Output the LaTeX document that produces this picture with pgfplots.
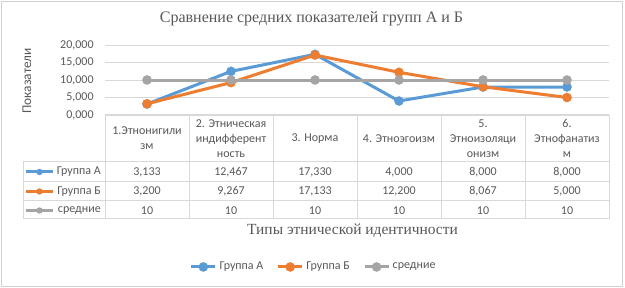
\documentclass[border=0pt]{standalone}
\usepackage{pgfplots}
\pgfplotsset{compat=1.18}
\usepackage{fontspec}
\setmainfont{Carlito}
\newfontfamily\seriffont{Liberation Serif}
\definecolor{cA}{HTML}{5B9BD5}
\definecolor{cB}{HTML}{ED7D31}
\definecolor{cC}{HTML}{A5A5A5}
\definecolor{gridc}{HTML}{D9D9D9}
\definecolor{frame}{HTML}{D0D0D0}
\definecolor{txt}{HTML}{595959}
\begin{document}
\begin{tikzpicture}
\begin{scope}[x=0.75pt,y=-0.75pt]
\fill[white] (0,0) rectangle (625,288);
\draw[frame, line width=1.2pt] (1.5,1.5) rectangle (622.5,286.5);
% title
\node[font=\seriffont\fontsize{12}{14}\selectfont, text=txt] at (311.5,19) {Сравнение средних показателей групп А и Б};
\node[font=\fontsize{10}{12}\selectfont, text=txt, rotate=90] at (27,81) {Показатели};
\node[font=\seriffont\fontsize{11.6}{14}\selectfont, text=txt] at (352.5,231) {Типы этнической идентичности};
% table grid
\begin{scope}[gridc, line width=0.75pt]
\draw (105,115) -- (609,115);
\foreach \yy in {162,182,201,219} \draw (23,\yy) -- (609,\yy);
\draw (23,162) -- (23,219);
\foreach \xx in {105,189,273,357,441,525,609} \draw (\xx,115) -- (\xx,219);
\end{scope}
% header
\begin{scope}[every node/.style={font=\fontsize{9}{11.25}\selectfont, text=txt, align=center, inner sep=0pt}]
\node at (147,138.5) {1.Этнонигили\\зм};
\node at (231,138.5) {2. Этническая\\индифферент\\ность};
\node at (315,138.5) {3. Норма};
\node at (399,138.5) {4. Этноэгоизм};
\node at (483,138.5) {5.\\Этноизоляци\\онизм};
\node at (567,138.5) {6.\\Этнофанатиз\\м};
% row values
\foreach \xx/\a/\b in {147/{3,133}/{3,200},231/{12,467}/{9,267},315/{17,330}/{17,133},399/{4,000}/{12,200},483/{8,000}/{8,067},567/{8,000}/{5,000}}{
  \node at (\xx,172) {\a};
  \node at (\xx,191.5) {\b};
  \node at (\xx,210.5) {10};
}
\node[anchor=east] at (101,172) {Группа А};
\node[anchor=east] at (101,191.5) {Группа Б};
\node[anchor=east] at (101,210.5) {средние};
\end{scope}
\draw[cA, line width=2.25pt] (26,172) -- (53,172);
\fill[cA] (39.5,172) circle (2.4pt);
\draw[cB, line width=2.25pt] (26,191.5) -- (53,191.5);
\fill[cB] (39.5,191.5) circle (2.4pt);
\draw[cC, line width=2.25pt] (26,210.5) -- (53,210.5);
\fill[cC] (39.5,210.5) circle (2.4pt);
\end{scope}
\begin{axis}[at={(78.75pt,-86.25pt)}, anchor=south west, scale only axis,
  width=378pt, height=52.5pt,
  xmin=0.5, xmax=6.5, ymin=0, ymax=20,
  xtick=\empty, ytick={0,5,10,15,20},
  yticklabels={{0,000},{5,000},{10,000},{15,000},{20,000}},
  ymajorgrids, grid style={gridc, line width=0.75pt},
  axis line style={draw=none}, major tick length=0pt,
  yticklabel style={font=\fontsize{9}{10}\selectfont, text=txt, xshift=-5pt},
  clip=false,
  legend columns=3,
  legend style={at={(0.4147,-2.171)}, anchor=center, draw=none, fill=none,
    font=\fontsize{9}{10}\selectfont, text=txt,
    /tikz/every even column/.append style={column sep=8pt}},
  legend image code/.code={\draw[#1, mark repeat=2, mark phase=2] plot coordinates {(0pt,0pt) (9pt,0pt) (18pt,0pt)};},
]
\addplot[cA, line width=2.25pt, mark=*, mark size=2.4pt, mark options={solid}] coordinates {(1,3.133) (2,12.467) (3,17.330) (4,4.000) (5,8.000) (6,8.000)};
\addlegendentry{Группа А}
\addplot[cB, line width=2.25pt, mark=*, mark size=2.4pt, mark options={solid}] coordinates {(1,3.200) (2,9.267) (3,17.133) (4,12.200) (5,8.067) (6,5.000)};
\addlegendentry{Группа Б}
\addplot[cC, line width=2.25pt, mark=*, mark size=2.4pt, mark options={solid}] coordinates {(1,10) (2,10) (3,10) (4,10) (5,10) (6,10)};
\addlegendentry{средние}
\end{axis}
\end{tikzpicture}
\end{document}
